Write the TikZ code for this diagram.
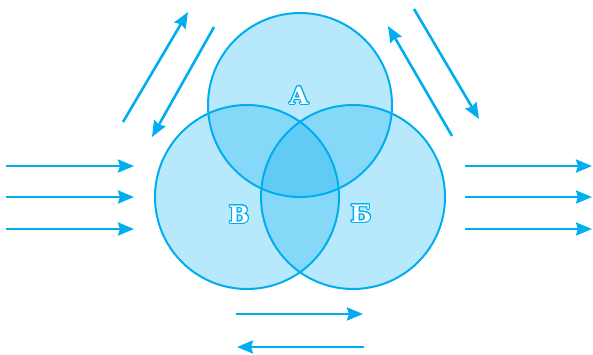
\documentclass[tikz,border=0pt]{standalone}
\usepackage{fontspec}
\newfontfamily\lettfont{DejaVu Serif}
\usepackage[copies]{contour}
\contourlength{1.1pt}
\usetikzlibrary{arrows.meta}
\definecolor{vennblue}{HTML}{00AEEF}
\tikzset{
  vennfill/.style={fill=vennblue,fill opacity=0.28},
  vennline/.style={draw=vennblue,line width=2pt},
  flow/.style={draw=vennblue,line width=2.6pt,-{Stealth[length=16pt,width=13pt,inset=2pt]}},
  lett/.style={text=white,font=\lettfont\bfseries\fontsize{24}{24}\selectfont}
}
\begin{document}
\begin{tikzpicture}[x=1pt,y=-1pt]
\useasboundingbox (0,0) rectangle (593,354);
% circles
\foreach \c in {(300,105),(247,197),(353,197)}
  \fill[vennfill] \c circle (92);
\foreach \c in {(300,105),(247,197),(353,197)}
  \draw[vennline] \c circle (92);
% letters
\node[lett] (la) at (299,96) {\contour{vennblue}{А}};
\node[lett] (lv) at (239,215) {\contour{vennblue}{В}};
\node[lett] (lb) at (361,214) {\contour{vennblue}{Б}};
% horizontal arrows
\foreach \y in {166,197,229} {
  \draw[flow] (6,\y)--(134,\y);
  \draw[flow] (465,\y)--(592,\y);
}
% slanted arrows
\draw[flow] (123,122)--(188,12);
\draw[flow] (214,27)--(152,137);
\draw[flow] (452,136)--(388,26);
\draw[flow] (414,9)--(479,119);
% bottom arrows
\draw[flow] (236,314)--(363,314);
\draw[flow] (364,347)--(237,347);
\end{tikzpicture}
\end{document}
